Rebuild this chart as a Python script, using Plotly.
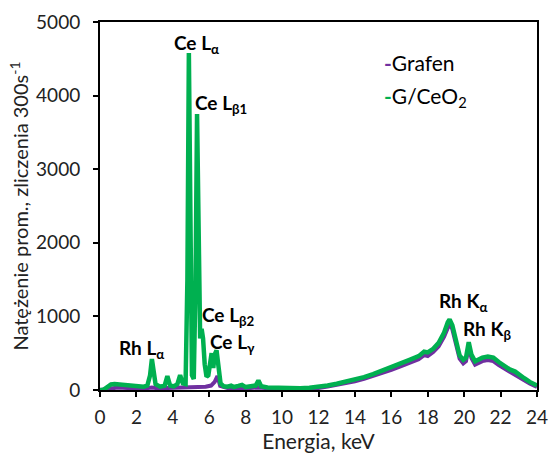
import plotly.graph_objects as go

# EDS spectrum, sample "Grafen"
grafen_energy = [0.0, 0.3, 0.6, 1.0, 1.5, 2.0, 2.5, 2.85, 3.2, 3.7, 4.4, 4.8, 5.3, 5.8,
                 6.1, 6.3, 6.45, 6.6, 7.0, 8.0, 8.7, 9.5, 10.5, 11.5, 12.0, 12.5, 13.0,
                 13.5, 14.0, 14.5, 15.0, 15.5, 16.0, 16.5, 17.0, 17.5, 17.8, 18.0, 18.3,
                 18.6, 18.9, 19.1, 19.2, 19.35, 19.55, 19.75, 19.95, 20.1, 20.25, 20.4,
                 20.6, 20.8, 21.0, 21.3, 21.6, 21.9, 22.2, 22.5, 22.8, 23.0, 23.3, 23.6,
                 23.85, 24.0]
grafen_counts = [0, 10, 30, 35, 28, 22, 22, 35, 22, 28, 30, 35, 40, 45,
                 60, 110, 190, 55, 28, 22, 35, 18, 16, 20, 28, 48, 70,
                 92, 118, 152, 188, 228, 272, 322, 368, 418, 475, 462, 515,
                 595, 725, 865, 905, 825, 605, 425, 362, 392, 595, 435,
                 345, 372, 392, 408, 392, 338, 292, 242, 212, 178, 132, 88,
                 58, 42]

# EDS spectrum, sample "G/CeO2"
gceo2_energy = [0.0, 0.2, 0.4, 0.6, 0.8, 1.0, 1.2, 1.5, 1.8, 2.1, 2.4, 2.6, 2.75, 2.85,
                2.95, 3.05, 3.3, 3.55, 3.7, 3.85, 4.05, 4.25, 4.4, 4.55, 4.7, 4.8, 4.88,
                4.97, 5.05, 5.15, 5.25, 5.33, 5.42, 5.5, 5.58, 5.66, 5.75, 5.85, 5.95,
                6.05, 6.13, 6.22, 6.3, 6.4, 6.5, 6.62, 6.8, 7.0, 7.2, 7.35, 7.6, 7.8,
                8.0, 8.3, 8.55, 8.7, 8.85, 9.2, 9.6, 10.0, 10.5, 11.0, 11.5, 12.0, 12.5,
                13.0, 13.5, 14.0, 14.5, 15.0, 15.5, 16.0, 16.5, 17.0, 17.5, 17.8, 18.0,
                18.3, 18.6, 18.9, 19.1, 19.2, 19.35, 19.55, 19.75, 19.95, 20.1, 20.25,
                20.4, 20.6, 20.8, 21.0, 21.3, 21.6, 21.9, 22.2, 22.5, 22.8, 23.0, 23.3,
                23.6, 23.85, 24.0]
gceo2_counts = [0, 5, 40, 75, 80, 75, 65, 60, 55, 50, 45, 60, 200, 420,
                250, 80, 45, 60, 190, 60, 50, 80, 200, 90, 80, 1500, 4580,
                1500, 200, 150, 1500, 3750, 1500, 700, 830, 700, 350, 180, 200,
                420, 500, 300, 480, 540, 300, 90, 50, 45, 60, 40, 55, 70,
                40, 45, 60, 130, 50, 35, 30, 25, 25, 25, 30, 40, 60,
                85, 110, 140, 175, 215, 260, 310, 360, 410, 460, 520, 510,
                560, 640, 780, 920, 960, 880, 650, 470, 410, 440, 650,
                480, 390, 420, 440, 455, 440, 380, 330, 280, 250, 210, 160,
                110, 80, 60]

# Peak labels
peak_labels = ["Ce L<sub>α</sub>", "Ce L<sub>β1</sub>", "Rh L<sub>α</sub>",
               "Ce L<sub>β2</sub>", "Ce L<sub>γ</sub>", "Rh K<sub>α</sub>", "Rh K<sub>β</sub>"]
label_energy = [5.3, 6.65, 2.3, 7.05, 7.3, 19.95, 21.25]
label_counts = [4700, 3880, 560, 1000, 640, 1200, 810]

series_names = ["Grafen", "G/CeO<sub>2</sub>"]
series_colors = ["#7030a0", "#00b050"]

FONT = "Lato, 'Open Sans', sans-serif"

fig = go.Figure()
fig.add_trace(go.Scatter(x=grafen_energy, y=grafen_counts, mode="lines",
                         line=dict(color=series_colors[0], width=4), name="Grafen"))
fig.add_trace(go.Scatter(x=gceo2_energy, y=gceo2_counts, mode="lines",
                         line=dict(color=series_colors[1], width=4.5), name="G/CeO2"))

for txt, ex, cy in zip(peak_labels, label_energy, label_counts):
    fig.add_annotation(x=ex, y=cy, xref="x", yref="y", text=f"<b>{txt}</b>",
                       showarrow=False, font=dict(family=FONT, size=19, color="black"))

# Legend entries drawn as text with a coloured dash
legend_y = [0.891, 0.796]
for name, col, ly in zip(series_names, series_colors, legend_y):
    fig.add_annotation(x=0.645, y=ly, xref="paper", yref="paper",
                       xanchor="left", yanchor="middle",
                       text=f"<span style='color:{col}'><b>-</b></span>{name}",
                       showarrow=False, font=dict(family=FONT, size=21, color="black"))

axis_common = dict(showline=True, linecolor="black", linewidth=2, mirror=True,
                   ticks="outside", ticklen=5, tickwidth=2, tickcolor="black",
                   showgrid=False, zeroline=False, automargin=False,
                   tickfont=dict(family=FONT, size=19, color="#222"))

fig.update_xaxes(range=[0, 24], dtick=2, tick0=0, ticklabelstandoff=4,
                 title=dict(text="Energia, keV", font=dict(family=FONT, size=21, color="#222"),
                            standoff=2), **axis_common)
fig.update_yaxes(range=[0, 5000], dtick=1000, tick0=0, ticklabelstandoff=9,
                 title=dict(text="Natężenie prom., zliczenia 300s<sup>-1</sup>",
                            font=dict(family=FONT, size=20, color="#222"), standoff=2),
                 **axis_common)

fig.update_layout(width=550, height=457, showlegend=False,
                  margin=dict(l=100, r=13, t=22, b=67),
                  plot_bgcolor="white", paper_bgcolor="white")

fig.write_html("out.html")
